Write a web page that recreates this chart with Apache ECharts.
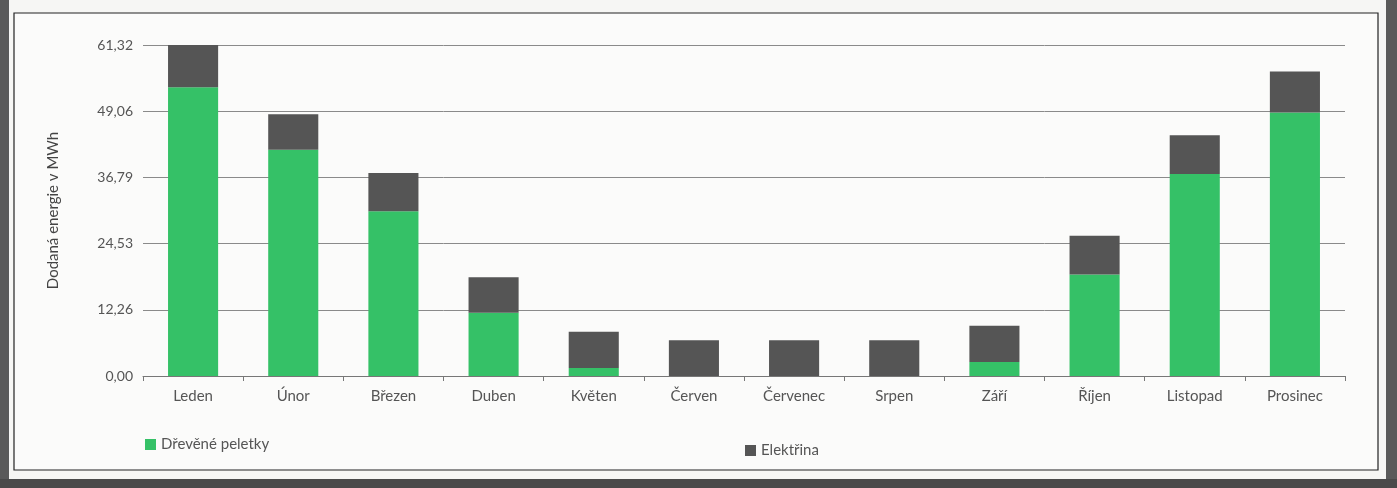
<!DOCTYPE html>
<html><head><meta charset="utf-8">
<script src="https://cdn.jsdelivr.net/npm/echarts@6/dist/echarts.min.js"></script>
<style>html,body{margin:0;padding:0;background:#f6f6f4;}#c{width:1397px;height:488px;}</style>
</head><body><div id="c"></div>
<script>
const categories = ['Leden','Únor','Březen','Duben','Květen','Červen','Červenec','Srpen','Září','Říjen','Listopad','Prosinec'];
const pellets = [53.5, 41.9, 30.5, 11.7, 1.5, 0, 0, 0, 2.6, 18.8, 37.4, 48.8];
const electricity = [7.8, 6.6, 7.1, 6.6, 6.7, 6.6, 6.6, 6.6, 6.7, 7.2, 7.2, 7.6];
const yMax = 61.32;
const yStep = 12.264;
const seriesNames = ['Dřevěné peletky', 'Elektřina'];
const axisName = 'Dodaná energie v MWh';

const chart = echarts.init(document.getElementById('c'));
const font = 'Lato, "Open Sans", sans-serif';
chart.setOption({
  backgroundColor: '#f6f6f4',
  animation: false,
  textStyle: {fontFamily: font},
  graphic: [
    {type:'rect', shape:{x:0,y:0,width:9,height:488}, style:{fill:'#5a5a5a'}, z:-1},
    {type:'rect', shape:{x:1386,y:0,width:11,height:488}, style:{fill:'#5a5a5a'}, z:-1},
    {type:'rect', shape:{x:0,y:479,width:1397,height:9}, style:{fill:'#4a4a4a'}, z:-1},
    {type:'rect', shape:{x:14,y:13,width:1364,height:457}, style:{fill:'#fbfbfa', stroke:'#222', lineWidth:1.2}, z:-1}
  ],
  legend: [
    {data:[seriesNames[0]], left:140, top:432, itemWidth:11, itemHeight:11, icon:'rect', itemGap:6,
     textStyle:{fontSize:15, color:'#555', fontFamily:font}},
    {data:[seriesNames[1]], left:740, top:438, itemWidth:11, itemHeight:11, icon:'rect',
     textStyle:{fontSize:15, color:'#555', fontFamily:font}}
  ],
  grid: {left:143, right:52, top:45, bottom:112},
  xAxis: {
    type:'category', data:categories,
    axisLine:{lineStyle:{color:'#777', width:1}},
    axisTick:{show:true, alignWithLabel:false, length:5, lineStyle:{color:'#777'}},
    axisLabel:{fontSize:15, color:'#555', margin:13, fontFamily:font}
  },
  yAxis: {
    type:'value', min:0, max:yMax, interval:yStep,
    name: axisName, nameLocation:'middle', nameGap:82, nameRotate:90,
    nameTextStyle:{fontSize:15, color:'#444', fontFamily:font},
    axisLine:{show:false}, axisTick:{show:false},
    axisLabel:{fontSize:14, color:'#555', margin:10, fontFamily:font,
      formatter: v => v.toFixed(2).replace('.', ',')},
    splitLine:{lineStyle:{color:'#8a8a8a', width:1}}
  },
  series: [
    {name:seriesNames[0], type:'bar', stack:'t', data:pellets, barWidth:'50%', itemStyle:{color:'#35c167'}},
    {name:seriesNames[1], type:'bar', stack:'t', data:electricity, barWidth:'50%', itemStyle:{color:'#555555'}}
  ]
});
</script></body></html>
